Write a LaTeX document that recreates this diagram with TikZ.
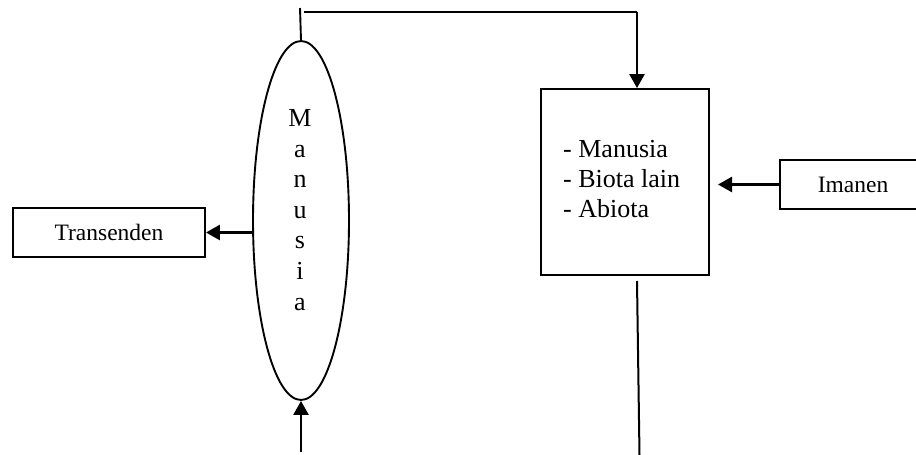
\documentclass[tikz,border=0pt]{standalone}
\usepackage{fontspec}
\setmainfont{Liberation Serif}
\usetikzlibrary{shapes.geometric,arrows.meta}
\begin{document}
\begin{tikzpicture}[x=1pt,y=-1pt,
  every node/.style={font=\fontsize{23.5}{31}\selectfont},
  big/.style={font=\fontsize{26}{30.2}\selectfont},
  boxed/.style={draw,line width=1.9pt,inner sep=0pt},
  plain/.style={line width=1.9pt},
  arr/.style={line width=2.6pt,-{Triangle[length=14pt,width=15pt]}}]
\clip (0,0) rectangle (916,455);

% the human figure as a tall ellipse with a vertical caption
\node[draw,line width=1.9pt,ellipse,minimum width=96pt,minimum height=359pt,inner sep=0pt] (ell) at (301,220.5) {};
\node[align=center,inner sep=0pt,font=\fontsize{26}{30.6}\selectfont] (mtext) at (300,210) {M\\a\\n\\u\\s\\i\\a};

% boxes
\node[boxed,minimum width=168pt,minimum height=186pt] (world) at (625,182) {};
\node[big,align=left,inner sep=0pt,anchor=west] (list) at (563,179) {- Manusia\\- Biota lain\\- Abiota};
\node[boxed,minimum width=192pt,minimum height=49pt] (trans) at (109,232.5) {Transenden};
\node[boxed,minimum width=146pt,minimum height=49pt] (iman) at (853,184.5) {Imanen};

% free ends of the connectors
\coordinate (stub) at (300,8);
\coordinate (topl) at (304,12);
\coordinate (topr) at (637,12);
\coordinate (imtip) at (718,184.5);
\coordinate (bot) at (301,452);
\coordinate (down1) at (637,281);
\coordinate (down2) at (639.5,455);

% connectors
\draw[plain] (ell.north) -- (stub);
\draw[plain] (topl) -- (topr);
\draw[arr] (topr) -- (topr |- world.north);
\draw[arr] (ell.west |- trans.east) -- (trans.east);
\draw[arr] (iman.west) -- (imtip);
\draw[arr] (bot) -- (ell.south);
\draw[line width=2pt] (down1) -- (down2);
\end{tikzpicture}
\end{document}
